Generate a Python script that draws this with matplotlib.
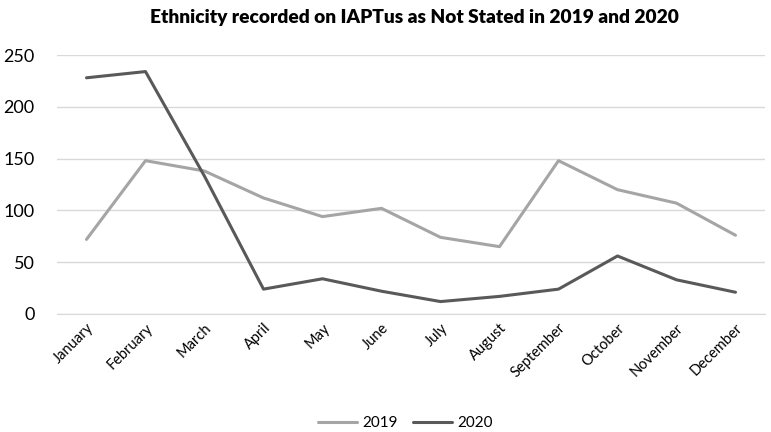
import matplotlib
matplotlib.use("Agg")
import matplotlib.pyplot as plt

months = ["January", "February", "March", "April", "May", "June", "July",
          "August", "September", "October", "November", "December"]
v2019 = [72, 148, 138, 112, 94, 102, 74, 65, 148, 120, 107, 76]
v2020 = [228, 234, 133, 24, 34, 22, 12, 17, 24, 56, 33, 21]
yticks = [0, 50, 100, 150, 200, 250]

plt.rcParams['font.family'] = ['Lato', 'DejaVu Sans']

fig = plt.figure(figsize=(7.71, 4.32), dpi=100)
ax = fig.add_axes([57/771, 1-314/432, 708/771, 259/432])
x = list(range(len(months)))
ax.plot(x, v2019, color="#A5A5A5", lw=2.2, label="2019", solid_capstyle="round")
ax.plot(x, v2020, color="#595959", lw=2.2, label="2020", solid_capstyle="round")
ax.set_xlim(-0.5, 11.5)
ax.set_ylim(0, 250)
ax.set_yticks(yticks)
ax.set_yticklabels([str(t) for t in yticks], fontsize=13, color="#000000")
ax.set_xticks(x)
ax.set_xticklabels(months, rotation=45, ha="right", rotation_mode="anchor", fontsize=10.5)
ax.tick_params(axis="both", length=0)
ax.tick_params(axis="y", pad=16)
ax.tick_params(axis="x", pad=5)
ax.grid(axis="y", color="#D9D9D9", lw=1)
ax.set_axisbelow(True)
for s in ["top", "right", "left"]:
    ax.spines[s].set_visible(False)
ax.spines["bottom"].set_color("#D9D9D9")
fig.text(414/771, 1-18/432, "Ethnicity recorded on IAPTus as Not Stated in 2019 and 2020",
         ha="center", va="center", fontsize=13.8, fontweight="heavy")
fig.legend(loc="center", bbox_to_anchor=(405/771, 1-423/432), ncol=2, frameon=False,
           fontsize=11, handlelength=2.6, columnspacing=1.0, handletextpad=0.3)
fig.savefig("out.png", dpi=100)
